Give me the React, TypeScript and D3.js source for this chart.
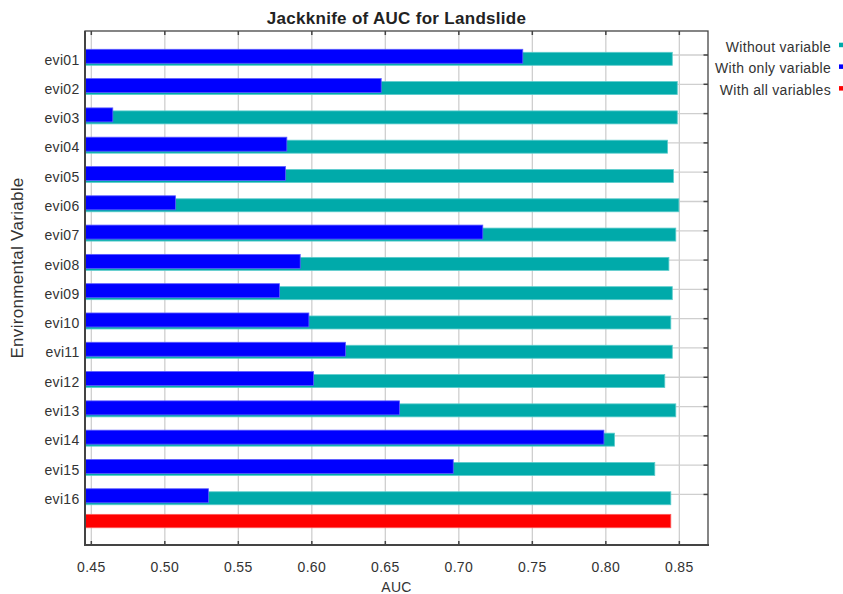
import React from "react";
import * as d3 from "d3";

const variables = [
  "evi01", "evi02", "evi03", "evi04", "evi05", "evi06", "evi07", "evi08",
  "evi09", "evi10", "evi11", "evi12", "evi13", "evi14", "evi15", "evi16",
];
const withoutVariable = [
  0.8452, 0.8486, 0.8486, 0.842, 0.846, 0.8497, 0.8476, 0.8429,
  0.8452, 0.8442, 0.8452, 0.8401, 0.8476, 0.8059, 0.8333, 0.8442,
];
const withOnlyVariable = [
  0.7435, 0.6472, 0.4646, 0.583, 0.5821, 0.5073, 0.7163, 0.5921,
  0.578, 0.598, 0.6229, 0.6012, 0.6597, 0.7987, 0.6962, 0.5297,
];
const withAllVariables = 0.8442;
const xTicks = [0.45, 0.5, 0.55, 0.6, 0.65, 0.7, 0.75, 0.8, 0.85];
const legendItems = [
  { label: "Without variable", color: "#00aaaa" },
  { label: "With only variable", color: "#0000ff" },
  { label: "With all variables", color: "#ff0000" },
];

const width = 843;
const height = 594;
const left = 85;
const right = 708;
const top = 31;
const bottom = 545;
const font = "'Liberation Sans', Arial, Helvetica, sans-serif";
const frameColor = "#444";
const gridColor = "#cfcfcf";

export default function App() {
  // x axis: the plot starts a bit below 0.45, as in the original
  const x = d3.scaleLinear().domain([0.4457, 0.8695]).range([left, right]);
  // one row per variable plus the last row for all variables
  const rows = [...variables, "__all"];
  const y = d3.scalePoint<string>().domain(rows).range([55, 523.75]);
  const x0 = x.range()[0];

  return (
    <div style={{ position: "absolute", left: 0, top: 0 }}>
      <svg width={width} height={height} style={{ display: "block", background: "white" }} fontFamily={font}>
        {/* grid */}
        {xTicks.map((t) => (
          <line key={"gx" + t} x1={x(t)} x2={x(t)} y1={top} y2={bottom} stroke={gridColor} strokeWidth={1.3} />
        ))}
        {variables.map((v) => (
          <line key={"gy" + v} x1={left} x2={right} y1={y(v)} y2={y(v)} stroke={gridColor} strokeWidth={1.3} />
        ))}

        {/* bars */}
        {variables.map((v, i) => (
          <g key={"bar" + v}>
            <rect
              x={x0}
              y={y(v)! - 2.7}
              width={x(withoutVariable[i]) - x0}
              height={13}
              fill="#00aaaa"
              stroke="#5ccccc"
              strokeWidth={0.8}
            />
            <rect
              x={x0}
              y={y(v)! - 5.7}
              width={x(withOnlyVariable[i]) - x0}
              height={14}
              fill="#0000ff"
              stroke="#5c5cff"
              strokeWidth={0.8}
            />
          </g>
        ))}
        <rect
          x={x0}
          y={y("__all")! - 9.4}
          width={x(withAllVariables) - x0}
          height={13.4}
          fill="#ff0000"
          stroke="#ff5c5c"
          strokeWidth={0.8}
        />

        {/* frame */}
        <rect x={left} y={top} width={right - left} height={bottom - top} fill="none" stroke={frameColor} strokeWidth={1.3} />
        <line x1={left} x2={left} y1={top} y2={bottom + 1} stroke={frameColor} strokeWidth={2} />
        <line x1={left - 1} x2={right + 1} y1={bottom} y2={bottom} stroke={frameColor} strokeWidth={2} />

        {/* ticks */}
        {xTicks.map((t) => (
          <g key={"tx" + t}>
            <line x1={x(t)} x2={x(t)} y1={top} y2={top + 4} stroke={frameColor} strokeWidth={1.5} />
            <line x1={x(t)} x2={x(t)} y1={bottom} y2={bottom - 4} stroke={frameColor} strokeWidth={1.5} />
            <text x={x(t)} y={571.5} textAnchor="middle" fontSize={14} fill="#333" letterSpacing={0.3}>
              {d3.format(".2f")(t)}
            </text>
          </g>
        ))}
        {variables.map((v) => (
          <g key={"ty" + v}>
            <line x1={right} x2={right - 4.5} y1={y(v)} y2={y(v)} stroke={frameColor} strokeWidth={1.5} />
            <text x={79.5} y={y(v)! + 9.5} textAnchor="end" fontSize={14} fill="#333" letterSpacing={0.3}>
              {v}
            </text>
          </g>
        ))}

        {/* titles */}
        <text x={(left + right) / 2} y={24} textAnchor="middle" fontSize={17} fontWeight="bold" fill="#222" letterSpacing={0.3}>
          Jackknife of AUC for Landslide
        </text>
        <text x={(left + right) / 2} y={591.5} textAnchor="middle" fontSize={14} fill="#333" letterSpacing={0.3}>
          AUC
        </text>
        <text
          transform={`translate(23,${268}) rotate(-90)`}
          textAnchor="middle"
          fontSize={17}
          fill="#333"
          letterSpacing={0.3}
        >
          Environmental Variable
        </text>

        {/* legend */}
        {legendItems.map((d, i) => (
          <g key={d.label}>
            <text x={831} y={51.5 + i * 21.7} textAnchor="end" fontSize={14} fill="#333" letterSpacing={0.3}>
              {d.label}
            </text>
            <rect x={839} y={42.7 + i * 21.7} width={6} height={4.5} fill={d.color} />
          </g>
        ))}
      </svg>
    </div>
  );
}
